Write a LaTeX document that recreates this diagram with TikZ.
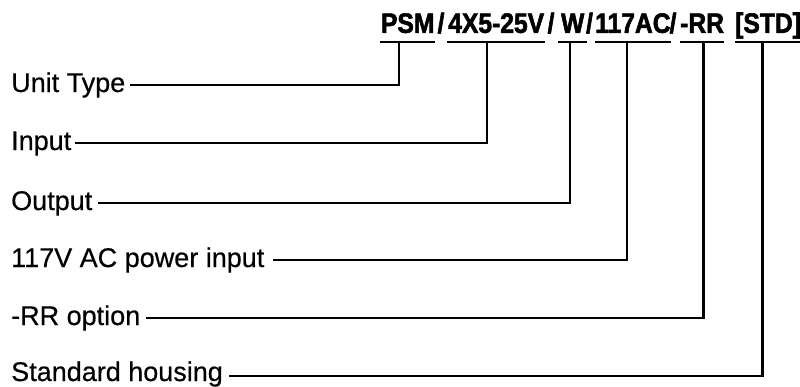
\documentclass[tikz,border=0pt]{standalone}
\usepackage{fontspec}
\setmainfont{Liberation Sans}[FakeBold=0.5]
\newfontfamily\topfont[FakeStretch=0.88,FakeBold=2]{Liberation Sans Bold}
\begin{document}
\begin{tikzpicture}[x=1pt,y=-1pt,
  lbl/.style={anchor=west,inner sep=0pt,text height=19pt,text depth=5pt,font=\fontsize{27}{30}\selectfont},
  seg/.style={anchor=south west,inner sep=0pt,text height=20pt,text depth=9pt,font=\topfont\fontsize{28}{30}\selectfont},
  slash/.style={anchor=base,inner sep=0pt,font=\topfont\fontsize{28}{30}\selectfont},
  wire/.style={line width=2.2pt,line cap=rect,line join=miter}]
\useasboundingbox (0,0) rectangle (800,386);
% top code
\node[seg,minimum width=55pt] (s1) at (380,42) {PSM};
\node[slash] (d1) at (441,33) {/};
\node[seg,minimum width=98pt] (s2) at (447,42) {4X5-25V};
\node[slash] (d2) at (551,33) {/};
\node[seg,minimum width=29pt] (s3) at (558,42) {W};
\node[slash] (d3) at (589.5,33) {/};
\node[seg,minimum width=70pt] (s4) at (595,42) {117AC};
\node[slash] (d4) at (673,33) {/};
\node[seg,minimum width=40pt] (s5) at (680,42) {-RR};
\node[seg,minimum width=52pt] (s6) at (735,42) {[STD]};
% underlines
\foreach \s in {s1,s2,s3,s4,s5,s6}
  \draw[wire,line cap=butt] (\s.south west) -- (\s.south east);
% labels
\node[lbl] (l1) at (11,85) {Unit Type};
\node[lbl] (l2) at (11,143) {Input};
\node[lbl] (l3) at (11,203) {Output};
\node[lbl] (l4) at (11,260) {117V AC power input};
\node[lbl] (l5) at (11,318) {-RR option};
\node[lbl,text height=16pt,text depth=6pt] (l6) at (11,376) {Standard housing};
% corners
\coordinate (c1) at (399,85);
\coordinate (c2) at (487,143);
\coordinate (c3) at (570,203);
\coordinate (c4) at (627,260);
\coordinate (c5) at (703.5,318);
\coordinate (c6) at (762.5,376);
% connectors
\draw[wire] ([xshift=6pt]l1.east) -- (c1) -- (c1 |- s1.south);
\draw[wire] ([xshift=5pt]l2.east) -- (c2) -- (c2 |- s2.south);
\draw[wire] ([xshift=7pt]l3.east) -- (c3) -- (c3 |- s3.south);
\draw[wire] ([xshift=10pt]l4.east) -- (c4) -- (c4 |- s4.south);
\draw[wire] ([xshift=7pt]l5.east) -- (c5) -- (c5 |- s5.south);
\draw[wire] ([xshift=7pt]l6.east) -- (c6) -- (c6 |- s6.south);
\end{tikzpicture}
\end{document}
